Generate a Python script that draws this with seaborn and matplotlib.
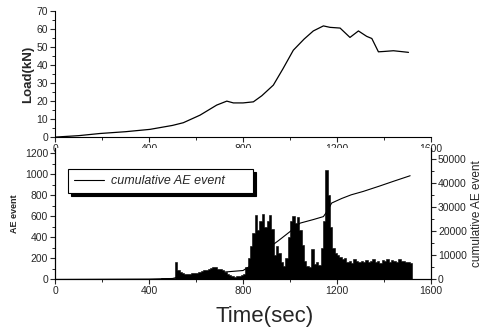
import matplotlib
matplotlib.use("agg")
import matplotlib.pyplot as plt
from matplotlib.ticker import MultipleLocator
import numpy as np
import pandas as pd
import seaborn as sns

# load curve
load_time = [0, 100, 191, 300, 404, 500, 546, 617, 688, 731, 759, 800, 844, 880,
             929, 970, 1014, 1060, 1099, 1142, 1170, 1213, 1255, 1291, 1326, 1348,
             1376, 1400, 1440, 1504]
load_kn = [0, 0.8, 2, 3, 4.3, 6.5, 8, 12.2, 17.8, 20, 19, 19, 19.6, 23,
           28.9, 38, 48.3, 54.5, 59, 61.8, 61, 60.6, 55.4, 59, 56, 54.8,
           47.4, 47.6, 48, 47.1]

# cumulative AE events (right axis)
cum_time = [0, 400, 500, 520, 600, 700, 750, 800, 830, 860, 900, 915, 950, 1000,
            1043, 1100, 1142, 1160, 1177, 1220, 1260, 1311, 1380, 1440, 1511]
cum_events = [0, 150, 400, 900, 1800, 2900, 3300, 3700, 5500, 8500, 12000, 13500,
              16000, 19800, 23300, 24800, 26000, 28500, 31600, 33500, 35000, 36400,
              38600, 40600, 42900]

# AE events per 10 s bin, bins starting at 0 s
ae_counts = [
    0, 1, 2, 2, 3, 2, 3, 3, 2, 3,
    3, 3, 4, 3, 4, 4, 3, 4, 5, 4,
    4, 5, 4, 5, 5, 4, 5, 6, 5, 5,
    5, 6, 6, 5, 6, 7, 6, 7, 7, 6,
    7, 8, 8, 9, 9, 10, 11, 10, 12, 13,
    14, 168, 90, 68, 58, 55, 52, 56, 60, 62,
    66, 72, 78, 86, 94, 100, 108, 118, 114, 104,
    96, 86, 70, 50, 38, 30, 28, 32, 36, 40,
    48, 120, 200, 320, 440, 610, 470, 560, 620, 500,
    560, 610, 480, 230, 320, 250, 170, 130, 200, 400,
    560, 600, 540, 590, 470, 330, 180, 125, 115, 285,
    150, 170, 140, 300, 560, 1040, 800, 500, 300, 250,
    230, 210, 190, 200, 170, 180, 160, 190, 175, 165,
    180, 170, 185, 165, 175, 190, 170, 180, 160, 185,
    175, 190, 170, 185, 180, 165, 190, 175, 180, 170,
    165, 160,
]
ae_bin = 10
ae_df = pd.DataFrame({"time": np.arange(len(ae_counts)) * ae_bin + ae_bin / 2,
                      "count": ae_counts})

sns.set_style("ticks")
plt.rcParams["font.family"] = ["Liberation Sans", "DejaVu Sans"]
plt.rcParams["xtick.direction"] = "out"
plt.rcParams["ytick.direction"] = "out"

fig = plt.figure(figsize=(4.89, 3.28), dpi=100)
ax_load = fig.add_axes([0.1125, 0.582, 0.769, 0.384])
ax_ae = fig.add_axes([0.1125, 0.148, 0.769, 0.401])
ax_cum = ax_ae.twinx()

# top panel: load
sns.lineplot(x=load_time, y=load_kn, ax=ax_load, color="black", lw=0.9)
ax_load.set_xlim(0, 1600)
ax_load.set_ylim(0, 70)
ax_load.xaxis.set_major_locator(MultipleLocator(400))
ax_load.xaxis.set_minor_locator(MultipleLocator(200))
ax_load.yaxis.set_major_locator(MultipleLocator(10))
ax_load.yaxis.set_minor_locator(MultipleLocator(5))
ax_load.set_ylabel("Load(kN)", fontsize=9.5, fontweight="bold", labelpad=2)
sns.despine(ax=ax_load)

# bottom panel: AE events as dense bars
sns.histplot(data=ae_df, x="time", weights="count",
             binwidth=ae_bin, binrange=(0, len(ae_counts) * ae_bin),
             element="step", fill=True, color="black", alpha=1, linewidth=0.4,
             ax=ax_ae)
ax_ae.set_xlim(0, 1600)
ax_ae.set_ylim(0, 1250)
ax_ae.xaxis.set_major_locator(MultipleLocator(400))
ax_ae.xaxis.set_minor_locator(MultipleLocator(200))
ax_ae.yaxis.set_major_locator(MultipleLocator(200))
ax_ae.yaxis.set_minor_locator(MultipleLocator(100))
ax_ae.set_ylabel("AE event", fontsize=6.5, fontweight="bold", labelpad=4)
ax_ae.set_xlabel("Time(sec)", fontsize=16)
ax_ae.xaxis.set_label_coords(0.558, -0.2)

sns.lineplot(x=cum_time, y=cum_events, ax=ax_cum, color="black", lw=0.8,
             label="cumulative AE event")
ax_cum.set_ylim(0, 54400)
ax_cum.yaxis.set_major_locator(MultipleLocator(10000))
ax_cum.yaxis.set_minor_locator(MultipleLocator(5000))
ax_cum.set_ylabel("cumulative AE event", fontsize=8.5, labelpad=3)

for ax in (ax_ae, ax_cum):
    ax.spines["top"].set_visible(False)

for ax in (ax_load, ax_ae, ax_cum):
    ax.tick_params(which="major", length=3.5, width=0.8, labelsize=7.5, pad=1.5)
    ax.tick_params(which="minor", length=2, width=0.7)
    for s in ax.spines.values():
        s.set_linewidth(0.8)
        s.set_color("black")

leg = ax_cum.legend(loc="upper left", bbox_to_anchor=(0.035, 0.0, 0.492, 0.84),
                    mode="expand", frameon=True, fancybox=False,
                    shadow={"color": "black", "alpha": 1},
                    edgecolor="black", framealpha=1, handlelength=2.4,
                    handletextpad=0.5, borderpad=0.5, borderaxespad=0,
                    prop={"style": "italic", "size": 9})
leg.get_frame().set_linewidth(0.8)

fig.savefig("out.png", dpi=100)
